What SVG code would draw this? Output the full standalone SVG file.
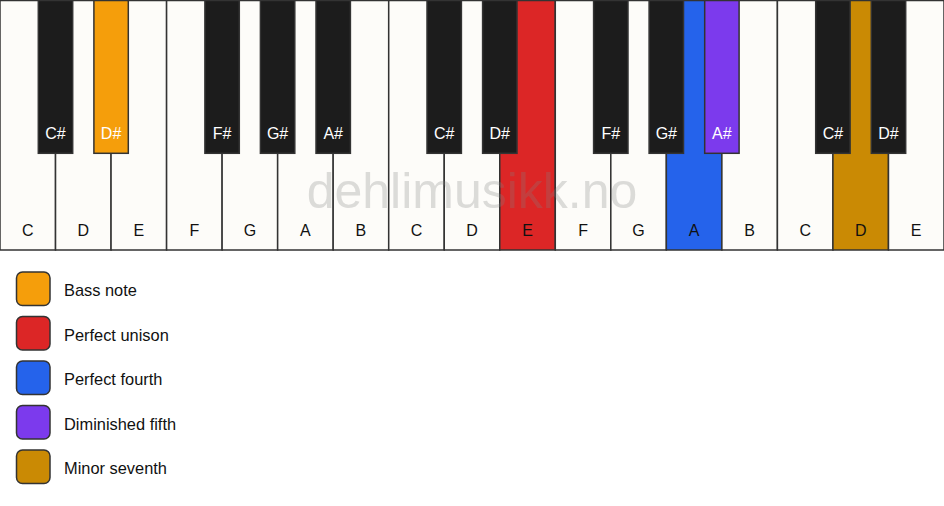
<svg xmlns="http://www.w3.org/2000/svg" width="944" height="506" viewBox="0 0 944 506">
<style>
.w{fill:#fdfcf9;stroke:#333;stroke-width:1.5}
.b{fill:#1c1c1c;stroke:#333;stroke-width:1.5}
.wl{font-family:"Liberation Sans",Arial,sans-serif;font-size:16px;fill:#111;text-anchor:middle}
.bl{font-family:"Liberation Sans",Arial,sans-serif;font-size:16px;fill:#fff;text-anchor:middle}
.lg{stroke:#333;stroke-width:1.5}
.lt{font-family:"Liberation Sans",Arial,sans-serif;font-size:16.4px;fill:#111}
.wm{font-family:"Liberation Sans",Arial,sans-serif;font-size:50px;fill:#808080;fill-opacity:0.27;text-anchor:middle}
</style>
<rect width="944" height="506" fill="#ffffff"/>
<g id="white-keys">
<g id="w0"><rect class="w" x="0" y="0" width="55.53" height="250"/><text class="wl" x="27.8" y="236">C</text></g>
<g id="w1"><rect class="w" x="55.53" y="0" width="55.53" height="250"/><text class="wl" x="83.3" y="236">D</text></g>
<g id="w2"><rect class="w" x="111.06" y="0" width="55.53" height="250"/><text class="wl" x="138.8" y="236">E</text></g>
<g id="w3"><rect class="w" x="166.59" y="0" width="55.53" height="250"/><text class="wl" x="194.4" y="236">F</text></g>
<g id="w4"><rect class="w" x="222.12" y="0" width="55.53" height="250"/><text class="wl" x="249.9" y="236">G</text></g>
<g id="w5"><rect class="w" x="277.65" y="0" width="55.53" height="250"/><text class="wl" x="305.4" y="236">A</text></g>
<g id="w6"><rect class="w" x="333.18" y="0" width="55.53" height="250"/><text class="wl" x="360.9" y="236">B</text></g>
<g id="w7"><rect class="w" x="388.71" y="0" width="55.53" height="250"/><text class="wl" x="416.5" y="236">C</text></g>
<g id="w8"><rect class="w" x="444.24" y="0" width="55.53" height="250"/><text class="wl" x="472" y="236">D</text></g>
<g id="w9"><rect class="w" x="499.76" y="0" width="55.53" height="250" style="fill:#dc2626"/></g>
<g id="w10"><rect class="w" x="555.29" y="0" width="55.53" height="250"/><text class="wl" x="583.1" y="236">F</text></g>
<g id="w11"><rect class="w" x="610.82" y="0" width="55.53" height="250"/><text class="wl" x="638.6" y="236">G</text></g>
<g id="w12"><rect class="w" x="666.35" y="0" width="55.53" height="250" style="fill:#2563eb"/></g>
<g id="w13"><rect class="w" x="721.88" y="0" width="55.53" height="250"/><text class="wl" x="749.6" y="236">B</text></g>
<g id="w14"><rect class="w" x="777.41" y="0" width="55.53" height="250"/><text class="wl" x="805.2" y="236">C</text></g>
<g id="w15"><rect class="w" x="832.94" y="0" width="55.53" height="250" style="fill:#ca8a04"/></g>
<g id="w16"><rect class="w" x="888.47" y="0" width="55.53" height="250"/><text class="wl" x="916.2" y="236">E</text></g>
</g>
<text class="wm" x="472" y="208">dehlimusikk.no</text>
<text class="wl" x="527.5" y="236">E</text>
<text class="wl" x="694.1" y="236">A</text>
<text class="wl" x="860.7" y="236">D</text>
<g id="black-keys">
<g id="b1"><rect class="b" x="38.3" y="-2" width="34.4" height="155.3"/><text class="bl" x="55.5" y="139">C#</text></g>
<g id="b2"><rect class="b" x="93.9" y="-2" width="34.4" height="155.3" style="fill:#f59e0b"/><text class="bl" x="111.1" y="139">D#</text></g>
<g id="b4"><rect class="b" x="204.9" y="-2" width="34.4" height="155.3"/><text class="bl" x="222.1" y="139">F#</text></g>
<g id="b5"><rect class="b" x="260.4" y="-2" width="34.4" height="155.3"/><text class="bl" x="277.6" y="139">G#</text></g>
<g id="b6"><rect class="b" x="316" y="-2" width="34.4" height="155.3"/><text class="bl" x="333.2" y="139">A#</text></g>
<g id="b8"><rect class="b" x="427.0" y="-2" width="34.4" height="155.3"/><text class="bl" x="444.2" y="139">C#</text></g>
<g id="b9"><rect class="b" x="482.6" y="-2" width="34.4" height="155.3"/><text class="bl" x="499.8" y="139">D#</text></g>
<g id="b11"><rect class="b" x="593.6" y="-2" width="34.4" height="155.3"/><text class="bl" x="610.8" y="139">F#</text></g>
<g id="b12"><rect class="b" x="649.1" y="-2" width="34.4" height="155.3"/><text class="bl" x="666.3" y="139">G#</text></g>
<g id="b13"><rect class="b" x="704.7" y="-2" width="34.4" height="155.3" style="fill:#7c3aed"/><text class="bl" x="721.9" y="139">A#</text></g>
<g id="b15"><rect class="b" x="815.7" y="-2" width="34.4" height="155.3"/><text class="bl" x="832.9" y="139">C#</text></g>
<g id="b16"><rect class="b" x="871.3" y="-2" width="34.4" height="155.3"/><text class="bl" x="888.5" y="139">D#</text></g>
</g>
<line x1="0" y1="0.5" x2="944" y2="0.5" stroke="#333" stroke-width="1.5"/>
<g id="legend">
<g id="lg1"><rect class="lg" x="16.5" y="272" width="33.5" height="33.5" rx="6" fill="#f59e0b"/><text class="lt" x="64" y="296">Bass note</text></g>
<g id="lg2"><rect class="lg" x="16.5" y="316.5" width="33.5" height="33.5" rx="6" fill="#dc2626"/><text class="lt" x="64" y="340.5">Perfect unison</text></g>
<g id="lg3"><rect class="lg" x="16.5" y="361" width="33.5" height="33.5" rx="6" fill="#2563eb"/><text class="lt" x="64" y="385">Perfect fourth</text></g>
<g id="lg4"><rect class="lg" x="16.5" y="405.5" width="33.5" height="33.5" rx="6" fill="#7c3aed"/><text class="lt" x="64" y="429.5">Diminished fifth</text></g>
<g id="lg5"><rect class="lg" x="16.5" y="450" width="33.5" height="33.5" rx="6" fill="#ca8a04"/><text class="lt" x="64" y="474">Minor seventh</text></g>
</g>
</svg>
